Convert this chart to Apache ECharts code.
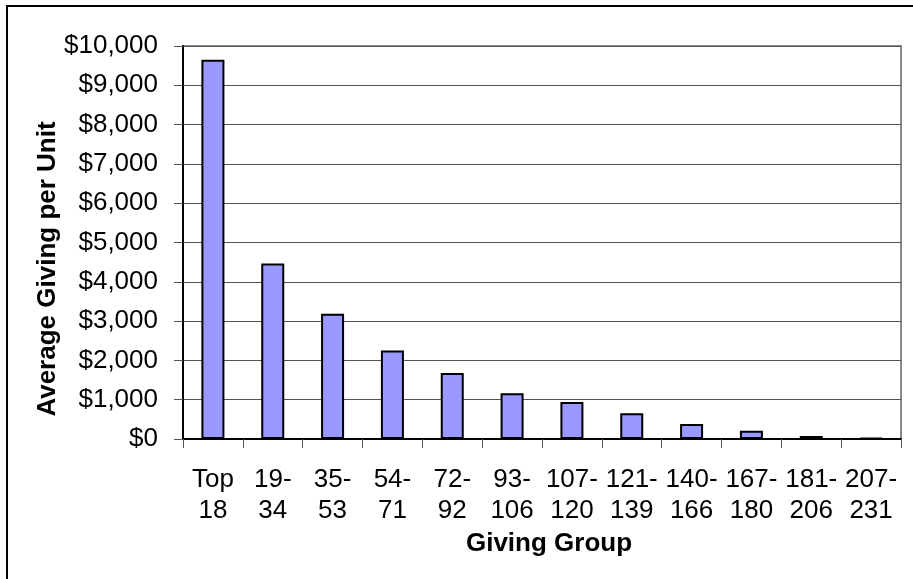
<!DOCTYPE html>
<html><head><meta charset="utf-8">
<script src="https://cdn.jsdelivr.net/npm/echarts@6/dist/echarts.min.js"></script>
<style>html,body{margin:0;padding:0;background:#fff}#c{width:913px;height:579px}</style>
</head><body><div id="c"></div>
<script>
const categories = ['Top\n18','19-\n34','35-\n53','54-\n71','72-\n92','93-\n106','107-\n120','121-\n139','140-\n166','167-\n180','181-\n206','207-\n231'];
const values = [9650, 4465, 3185, 2254, 1677, 1161, 940, 653, 381, 211, 76, 25];
const yTicks = {min: 0, max: 10000, interval: 1000};

const chart = echarts.init(document.getElementById('c'), null, {renderer: 'canvas'});
const font = 'Liberation Sans, Arial, sans-serif';
chart.setOption({
  animation: false,
  backgroundColor: '#fff',
  grid: {left: 183, top: 46, right: 12, bottom: 140, show: true, borderColor: '#8a8a8a', borderWidth: 2, backgroundColor: 'transparent'},
  graphic: [
    {type: 'rect', shape: {x: 7, y: 6, width: 1000, height: 1000}, style: {fill: 'none', stroke: '#000', lineWidth: 2}, z: 100},
    {type: 'text', x: 48, y: 269, rotation: Math.PI / 2,
     style: {text: 'Average Giving per Unit', font: 'bold 26px ' + font, fill: '#000', textAlign: 'center', textVerticalAlign: 'middle'}}
  ],
  xAxis: {
    type: 'category', data: categories,
    name: 'Giving Group', nameLocation: 'middle', nameGap: 87,
    nameTextStyle: {fontFamily: font, fontSize: 26, fontWeight: 'bold', color: '#000', padding: [0, 0, 0, 14]},
    axisLine: {lineStyle: {color: '#000', width: 2}},
    axisTick: {show: true, length: 9, lineStyle: {color: '#555', width: 1}},
    axisLabel: {fontFamily: font, fontSize: 26, color: '#000', margin: 25, lineHeight: 31, interval: 0}
  },
  yAxis: {
    type: 'value', min: yTicks.min, max: yTicks.max, interval: yTicks.interval,
    axisLine: {show: true, lineStyle: {color: '#000', width: 2}},
    axisTick: {show: true, length: 9, lineStyle: {color: '#555', width: 1}},
    splitLine: {show: true, lineStyle: {color: '#555', width: 1}},
    axisLabel: {fontFamily: font, fontSize: 26, color: '#000', margin: 25,
      formatter: v => '$' + v.toLocaleString('en-US')}
  },
  series: [{
    type: 'bar', data: values, barWidth: 23,
    itemStyle: {color: '#9999ff', borderColor: '#000', borderWidth: 2}
  }]
});
</script></body></html>
